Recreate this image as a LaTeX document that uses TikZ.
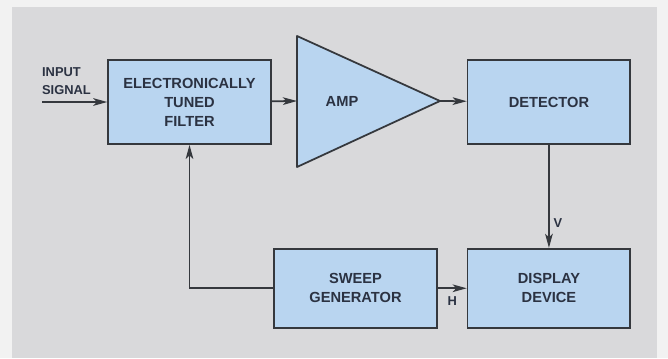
\documentclass[tikz,border=0pt]{standalone}
\usepackage{fontspec}
\setmainfont{Liberation Sans}
\usetikzlibrary{positioning,arrows.meta,calc}
\definecolor{boxblue}{HTML}{B9D5F0}
\definecolor{panelgray}{HTML}{D9D9DB}
\definecolor{paper}{HTML}{F2F2F2}
\definecolor{ink}{HTML}{2B3242}
\definecolor{wire}{HTML}{35383D}

\begin{document}
\begin{tikzpicture}[
    x=0.03cm, y=-0.03cm,
    node distance=3.09cm and 5.85cm,
    box/.style={draw=wire, line width=1.5pt, fill=boxblue, minimum width=4.88cm, minimum height=2.52cm, align=center, text=ink, font=\fontsize{12.5}{16.3}\selectfont\bfseries},
    low/.style={box, minimum height=2.37cm},
    arr/.style={-{Stealth[length=12pt, width=6.5pt, inset=3pt]}, line width=1.5pt, wire},
    lbl/.style={text=ink, font=\fontsize{11}{15}\selectfont\bfseries}
  ]
    % paper and panel
    \fill[paper] (0,0) rectangle (668,358);
    \fill[panelgray] (12,7) rectangle (657,358);

    \node[box] (filter) at (189.5,102) {ELECTRONICALLY\\TUNED\\FILTER};
    \node[box, right=of filter] (detector) {DETECTOR};
    \node[low, below=of detector] (display) {DISPLAY\\DEVICE};
    \node[low, left=0.87cm of display] (sweep) {SWEEP\\GENERATOR};

    % amplifier triangle
    \draw[wire, line width=1.5pt, fill=boxblue, line join=round] (297,36) -- (440,101) -- (297,167) -- cycle;
    \node[box, draw=none, fill=none, minimum width=0pt, minimum height=0pt] (amp) at (342,101) {AMP};
    \coordinate (ampin) at (297,101);
    \coordinate (ampout) at (440,101);

    \coordinate (in) at (42,102);
    \node[lbl, anchor=west, align=left] (inlabel) at (38,81) {INPUT\\SIGNAL};

    \draw[arr] (in) -- (filter);
    \draw[arr] (filter) -- (ampin);
    \draw[arr] (ampout) -- (detector);
    \draw[arr] (detector) -- node[lbl, right, pos=0.76] {V} (display);
    \draw[arr] (sweep) -- node[lbl, below=3pt] {H} (display);
    \draw[arr] (sweep.west) -| (filter.south);
  \end{tikzpicture}
\end{document}
